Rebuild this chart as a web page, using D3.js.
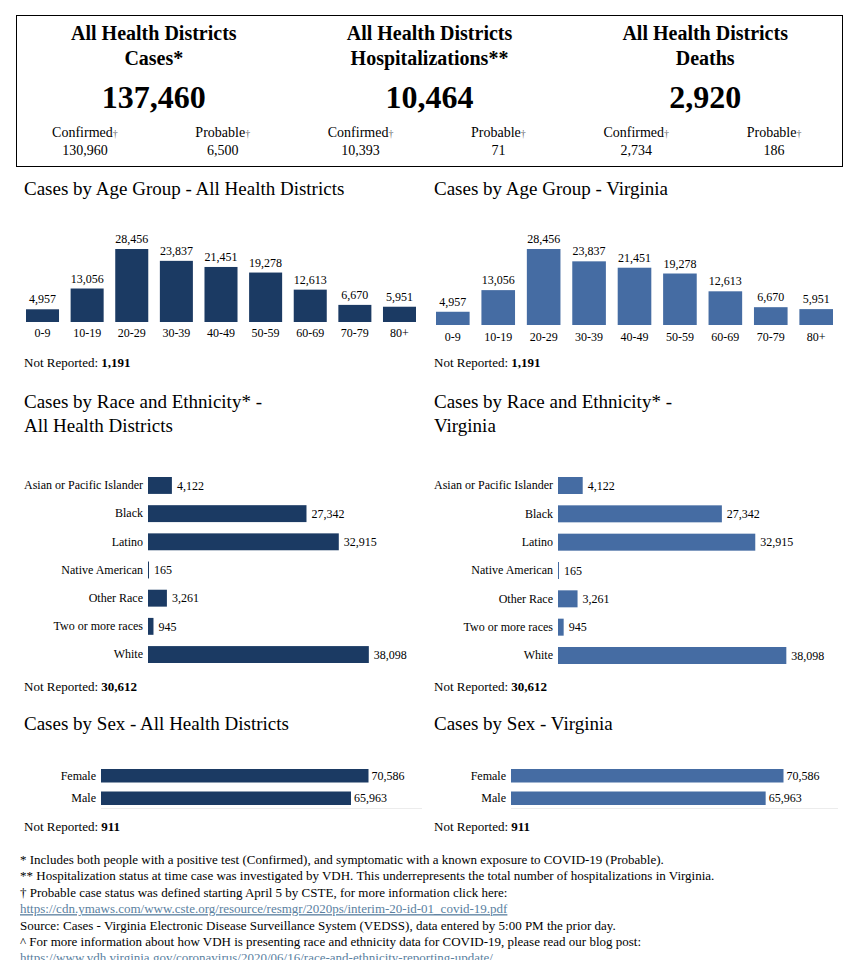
<!DOCTYPE html>
<html>
<head>
<meta charset="utf-8">
<script src="https://cdn.jsdelivr.net/npm/d3@7"></script>
<style>
  body { margin: 0; background: #fff; }
  svg { display: block; font-family: "Liberation Serif", "Times New Roman", serif; }
  .axis .domain { display: none; }
  .axis line { display: none; }
</style>
</head>
<body>
<div id="page"></div>
<script>
var width = 861;
var height = 960;

// summary box
var summaryTitles = ["Cases*", "Hospitalizations**", "Deaths"];
var summaryTotals = [137460, 10464, 2920];
var summaryConfirmed = [130960, 10393, 2734];
var summaryProbable = [6500, 71, 186];

// age groups
var ageGroups = ["0-9", "10-19", "20-29", "30-39", "40-49", "50-59", "60-69", "70-79", "80+"];
var ageCasesDistricts = [4957, 13056, 28456, 23837, 21451, 19278, 12613, 6670, 5951];
var ageCasesVirginia = [4957, 13056, 28456, 23837, 21451, 19278, 12613, 6670, 5951];
var ageNotReported = 1191;

// race and ethnicity
var raceGroups = ["Asian or Pacific Islander", "Black", "Latino", "Native American", "Other Race", "Two or more races", "White"];
var raceCasesDistricts = [4122, 27342, 32915, 165, 3261, 945, 38098];
var raceCasesVirginia = [4122, 27342, 32915, 165, 3261, 945, 38098];
var raceNotReported = 30612;

// sex
var sexGroups = ["Female", "Male"];
var sexCasesDistricts = [70586, 65963];
var sexCasesVirginia = [70586, 65963];
var sexNotReported = 911;

var footnotes = [
    "* Includes both people with a positive test (Confirmed), and symptomatic with a known exposure to COVID-19 (Probable).",
    "** Hospitalization status at time case was investigated by VDH. This underrepresents the total number of hospitalizations in Virginia.",
    "\u2020 Probable case status was defined starting April 5 by CSTE, for more information click here:",
    "https://cdn.ymaws.com/www.cste.org/resource/resmgr/2020ps/interim-20-id-01_covid-19.pdf",
    "Source:  Cases - Virginia Electronic Disease Surveillance System (VEDSS), data entered by 5:00 PM the prior day.",
    "^ For more information about how VDH is presenting race and ethnicity data for COVID-19, please read our blog post:",
    "https://www.vdh.virginia.gov/coronavirus/2020/06/16/race-and-ethnicity-reporting-update/"
];

var darkBlue = "#1b3a63";
var lightBlue = "#456ca3";
var fmt = d3.format(",");

var svg = d3.select("#page")
    .append("svg")
    .attr("width", width)
    .attr("height", height);

svg.append("rect").attr("width", width).attr("height", height).attr("fill", "#fff");

// ---- summary box ----
var box = svg.append("g");
box.append("rect")
    .attr("x", 16.5).attr("y", 15.5)
    .attr("width", 826).attr("height", 151)
    .attr("fill", "none").attr("stroke", "#000");

var colScale = d3.scaleBand().domain(d3.range(3)).range([16, 843]);
var cw = colScale.bandwidth();

summaryTitles.forEach(function (t, i) {
    var cx = colScale(i) + cw / 2;
    var col = box.append("g");
    col.append("text").attr("x", cx).attr("y", 40)
        .attr("text-anchor", "middle").attr("font-size", 20).attr("font-weight", "bold")
        .text("All Health Districts");
    col.append("text").attr("x", cx).attr("y", 65)
        .attr("text-anchor", "middle").attr("font-size", 20).attr("font-weight", "bold")
        .text(t);
    col.append("text").attr("x", cx).attr("y", 108)
        .attr("text-anchor", "middle").attr("font-size", 32).attr("font-weight", "bold")
        .text(fmt(summaryTotals[i]));

    [["Confirmed", summaryConfirmed[i], 0.25], ["Probable", summaryProbable[i], 0.75]].forEach(function (p) {
        var sx = colScale(i) + cw * p[2];
        var lab = col.append("text").attr("x", sx).attr("y", 137)
            .attr("text-anchor", "middle").attr("font-size", 14);
        lab.append("tspan").text(p[0]);
        lab.append("tspan").attr("font-size", 10).attr("fill", "#666").text("\u2020");
        col.append("text").attr("x", sx).attr("y", 155)
            .attr("text-anchor", "middle").attr("font-size", 14)
            .text(fmt(p[1]));
    });
});

function notReported(g, x, y, value) {
    var t = g.append("text").attr("x", x).attr("y", y).attr("font-size", 13);
    t.append("tspan").text("Not Reported: ");
    t.append("tspan").attr("font-weight", "bold").text(fmt(value));
}

function title(g, x, y, lines) {
    lines.forEach(function (l, i) {
        g.append("text").attr("x", x).attr("y", y + i * 24)
            .attr("font-size", 19).text(l);
    });
}

// ---- age column chart ----
function ageChart(opts) {
    var g = svg.append("g");
    title(g, opts.left, 195, [opts.title]);

    var data = ageGroups.map(function (a, i) { return { group: a, value: opts.values[i] }; });

    var xScale = d3.scaleBand().domain(ageGroups)
        .range([opts.x0, opts.x1]).paddingInner(0.26).paddingOuter(0);
    var yScale = d3.scaleLinear().domain([0, d3.max(data, function (d) { return d.value; })])
        .range([opts.base, opts.base - opts.h]);

    g.selectAll(".bar").data(data).enter().append("rect")
        .attr("class", "bar")
        .attr("x", function (d) { return xScale(d.group); })
        .attr("y", function (d) { return yScale(d.value); })
        .attr("width", xScale.bandwidth())
        .attr("height", function (d) { return opts.base - yScale(d.value); })
        .attr("fill", opts.color);

    g.selectAll(".val").data(data).enter().append("text")
        .attr("class", "val")
        .attr("x", function (d) { return xScale(d.group) + xScale.bandwidth() / 2; })
        .attr("y", function (d) { return yScale(d.value) - 6; })
        .attr("text-anchor", "middle").attr("font-size", 12)
        .text(function (d) { return fmt(d.value); });

    var axis = g.append("g").attr("class", "axis")
        .attr("transform", "translate(0," + opts.base + ")")
        .call(d3.axisBottom(xScale).tickSize(0).tickPadding(opts.pad));
    axis.attr("font-family", null);
    axis.selectAll("text").attr("font-size", 12).attr("fill", "#000");

    notReported(g, opts.left, 367, ageNotReported);
}

ageChart({ title: "Cases by Age Group - All Health Districts", values: ageCasesDistricts,
    left: 24, x0: 26, x1: 416, base: 322, h: 73, pad: 6, color: darkBlue });
ageChart({ title: "Cases by Age Group - Virginia", values: ageCasesVirginia,
    left: 434, x0: 436, x1: 833, base: 325, h: 76, pad: 7, color: lightBlue });

// ---- horizontal bar chart ----
function hBarChart(opts) {
    var g = svg.append("g");
    title(g, opts.left, opts.titleY, opts.title);

    var data = opts.groups.map(function (a, i) { return { group: a, value: opts.values[i] }; });
    var xScale = d3.scaleLinear()
        .domain([0, d3.max(data, function (d) { return d.value; }) * 1.2])
        .range([opts.x0, opts.x1]);
    var yScale = d3.scaleBand().domain(opts.groups)
        .range([opts.y0, opts.y1]).paddingInner(opts.padding).paddingOuter(0);

    if (opts.baseline) {
        g.append("line")
            .attr("x1", opts.x0).attr("x2", opts.x1)
            .attr("y1", opts.y1 + 3.5).attr("y2", opts.y1 + 3.5)
            .attr("stroke", "#ececec");
    }

    g.selectAll(".bar").data(data).enter().append("rect")
        .attr("class", "bar")
        .attr("x", opts.x0)
        .attr("y", function (d) { return yScale(d.group); })
        .attr("width", function (d) { return Math.max(1, xScale(d.value) - opts.x0); })
        .attr("height", yScale.bandwidth())
        .attr("fill", opts.color);

    g.selectAll(".val").data(data).enter().append("text")
        .attr("class", "val")
        .attr("x", function (d) { return Math.max(opts.x0 + 1, xScale(d.value)) + opts.valGap; })
        .attr("y", function (d) { return yScale(d.group) + yScale.bandwidth() / 2; })
        .attr("dy", "0.35em").attr("font-size", 12)
        .text(function (d) { return fmt(d.value); });

    var axis = g.append("g").attr("class", "axis")
        .attr("transform", "translate(" + opts.x0 + ",0)")
        .call(d3.axisLeft(yScale).tickSize(0).tickPadding(5));
    axis.attr("font-family", null);
    axis.selectAll("text").attr("font-size", 12).attr("fill", "#000");

    notReported(g, opts.left, opts.nrY, opts.notReported);
}

hBarChart({ title: ["Cases by Race and Ethnicity* -", "All Health Districts"], titleY: 408,
    groups: raceGroups, values: raceCasesDistricts, notReported: raceNotReported,
    left: 24, x0: 148, x1: 413, y0: 477, y1: 663, padding: 0.4, valGap: 5, nrY: 691, color: darkBlue });
hBarChart({ title: ["Cases by Race and Ethnicity* -", "Virginia"], titleY: 408,
    groups: raceGroups, values: raceCasesVirginia, notReported: raceNotReported,
    left: 434, x0: 558, x1: 832, y0: 477, y1: 664, padding: 0.4, valGap: 5, nrY: 691, color: lightBlue });

hBarChart({ title: ["Cases by Sex - All Health Districts"], titleY: 730,
    groups: sexGroups, values: sexCasesDistricts, notReported: sexNotReported,
    left: 24, x0: 101, x1: 422, y0: 769, y1: 805, padding: 0.4, valGap: 3, nrY: 831, color: darkBlue, baseline: true });
hBarChart({ title: ["Cases by Sex - Virginia"], titleY: 730,
    groups: sexGroups, values: sexCasesVirginia, notReported: sexNotReported,
    left: 434, x0: 511, x1: 838, y0: 769, y1: 805, padding: 0.4, valGap: 3, nrY: 831, color: lightBlue, baseline: true });

// ---- footnotes ----
svg.append("g").selectAll("text").data(footnotes).enter().append("text")
    .attr("x", 20)
    .attr("y", function (d, i) { return 864 + i * 16.4; })
    .attr("font-size", 13)
    .attr("fill", function (d) { return d.indexOf("https") === 0 ? "#5a7f9f" : "#000"; })
    .attr("text-decoration", function (d) { return d.indexOf("https") === 0 ? "underline" : null; })
    .text(function (d) { return d; });
</script>
</body>
</html>
